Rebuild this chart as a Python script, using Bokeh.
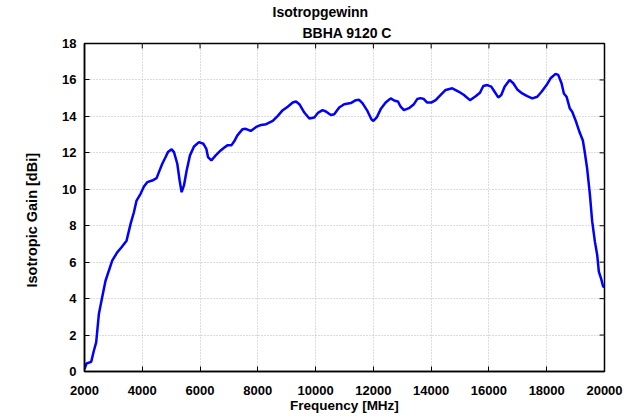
import math
from bokeh.plotting import figure
from bokeh.models import Range1d, FixedTicker, Title
from bokeh.embed import file_html
from bokeh.resources import INLINE

title_line1 = "Isotropgewinn"
title_line2 = "BBHA 9120 C"
x_label = "Frequency [MHz]"
y_label = "Isotropic Gain [dBi]"
x_ticks = [2000, 4000, 6000, 8000, 10000, 12000, 14000, 16000, 18000, 20000]
y_ticks = [0, 2, 4, 6, 8, 10, 12, 14, 16, 18]

freq_mhz = [2000, 2069, 2231, 2324, 2404, 2497, 2612, 2728, 2843, 2959, 3132, 3282, 3456, 3595,
            3710, 3802, 3941, 4057, 4172, 4345, 4495, 4576, 4692, 4808, 4889, 5016, 5097, 5212,
            5293, 5362, 5443, 5536, 5651, 5790, 5963, 6113, 6217, 6275, 6391, 6541, 6714, 6830,
            6945, 7084, 7200, 7292, 7465, 7581, 7754, 7943, 8115, 8287, 8517, 8690, 8862, 9034,
            9207, 9322, 9437, 9609, 9782, 9954, 10092, 10241, 10356, 10528, 10644, 10816, 10989,
            11218, 11391, 11506, 11621, 11793, 11931, 12000, 12115, 12253, 12425, 12598, 12736,
            12851, 12943, 13057, 13230, 13402, 13517, 13632, 13747, 13862, 14000, 14156, 14271,
            14501, 14732, 14963, 15135, 15343, 15539, 15689, 15804, 15942, 16081, 16196, 16323,
            16427, 16542, 16715, 16841, 16980, 17153, 17326, 17499, 17672, 17821, 17994, 18133,
            18306, 18398, 18513, 18594, 18686, 18801, 18882, 18997, 19135, 19251, 19308, 19401,
            19493, 19573, 19666, 19746, 19804, 19885, 19954, 20000]
gain_dbi = [0.13, 0.44, 0.53, 1.14, 1.6, 3.15, 4.07, 4.98, 5.53, 6.08, 6.54, 6.82, 7.18, 8.1,
            8.74, 9.38, 9.75, 10.15, 10.39, 10.48, 10.61, 10.94, 11.4, 11.77, 12.04, 12.19, 12.04, 11.4,
            10.48, 9.84, 10.21, 11.03, 11.86, 12.35, 12.59, 12.5, 12.22, 11.77, 11.58, 11.86, 12.13, 12.28,
            12.41, 12.41, 12.68, 12.96, 13.29, 13.32, 13.2, 13.42, 13.53, 13.57, 13.75, 14.03, 14.34, 14.53,
            14.76, 14.82, 14.67, 14.21, 13.88, 13.94, 14.21, 14.34, 14.27, 14.08, 14.12, 14.49, 14.67,
            14.73, 14.89, 14.91, 14.73, 14.3, 13.84, 13.75, 13.94, 14.4, 14.76, 14.99, 14.86,
            14.82, 14.53, 14.34, 14.45, 14.67, 14.95, 15.0, 14.95, 14.76, 14.76, 14.89, 15.08,
            15.45, 15.54, 15.35, 15.17, 14.89, 15.11, 15.3, 15.67, 15.72, 15.63, 15.35, 15.04,
            15.17, 15.63, 16.0, 15.82, 15.48, 15.26, 15.11, 14.99, 15.08, 15.35, 15.72, 16.09,
            16.33, 16.28, 15.82, 15.26, 15.08, 14.43, 14.25, 13.79, 13.14, 12.68, 12.13, 11.11,
            9.73, 8.25, 7.14, 6.41, 5.48, 5.08, 4.65, 4.65]

FONT = "Liberation Sans"
X0, X1 = x_ticks[0], x_ticks[-1]
Y0, Y1 = y_ticks[0], y_ticks[-1]

p = figure(width=632, height=415, output_backend="svg", toolbar_location=None,
           x_range=Range1d(X0, X1), y_range=Range1d(Y0, Y1),
           title=title_line1,
           min_border_left=84, min_border_right=28, min_border_top=43, min_border_bottom=44)

p.title.align = "left"
p.title.offset = 188
p.title.text_font = FONT
p.title.text_font_size = "14px"
p.title.text_font_style = "bold"
p.title.text_color = "black"
p.title.standoff = 2

t2 = Title(text=title_line2, align="left", offset=218, text_font=FONT, text_font_size="14px",
           text_font_style="bold", standoff=5, text_color="black")
p.add_layout(t2, "above")

# y axis caption, placed along the left side like the reference
ty = Title(text=y_label, align="left", offset=84, text_font=FONT, text_font_size="14.5px",
           text_font_style="bold", standoff=40, text_color="black")
p.add_layout(ty, "left")

p.outline_line_color = "black"
p.outline_line_width = 1.5
p.background_fill_color = "white"
p.border_fill_color = "white"

for ax in (p.xaxis[0], p.yaxis[0]):
    ax.major_tick_in = 5
    ax.major_tick_out = 0
    ax.minor_tick_in = 0
    ax.minor_tick_out = 0
    ax.major_tick_line_color = "black"
    ax.axis_line_color = "black"
    ax.axis_line_width = 1.5
    ax.major_label_text_font = FONT
    ax.major_label_text_font_size = "13px"
    ax.major_label_text_font_style = "bold"
    ax.major_label_text_color = "black"
    ax.axis_label_text_font = FONT
    ax.axis_label_text_font_style = "bold"
    ax.axis_label_text_color = "black"

p.xaxis[0].ticker = FixedTicker(ticks=x_ticks)
p.yaxis[0].ticker = FixedTicker(ticks=y_ticks)
p.xaxis[0].axis_label = x_label
p.xaxis[0].axis_label_text_font_size = "13.5px"
p.xaxis[0].major_label_standoff = 14
p.xaxis[0].axis_label_standoff = 0
p.yaxis[0].major_label_standoff = 8

p.xgrid.ticker = FixedTicker(ticks=x_ticks)
p.ygrid.ticker = FixedTicker(ticks=y_ticks)
for g in (p.xgrid[0], p.ygrid[0]):
    g.grid_line_color = "#b8b8b8"
    g.grid_line_dash = "1 2"
    g.grid_line_width = 1

# inward tick marks on the top and right frame edges
p.scatter(x=x_ticks, y=[Y1] * len(x_ticks), marker="dash", angle=math.pi / 2,
          size=10, line_color="black", line_width=1)
p.scatter(x=[X1] * len(y_ticks), y=y_ticks, marker="dash",
          size=10, line_color="black", line_width=1)

p.line(freq_mhz, gain_dbi, line_color="#0000ff", line_width=2.5)

open("out.html", "w").write(file_html(p, INLINE))
